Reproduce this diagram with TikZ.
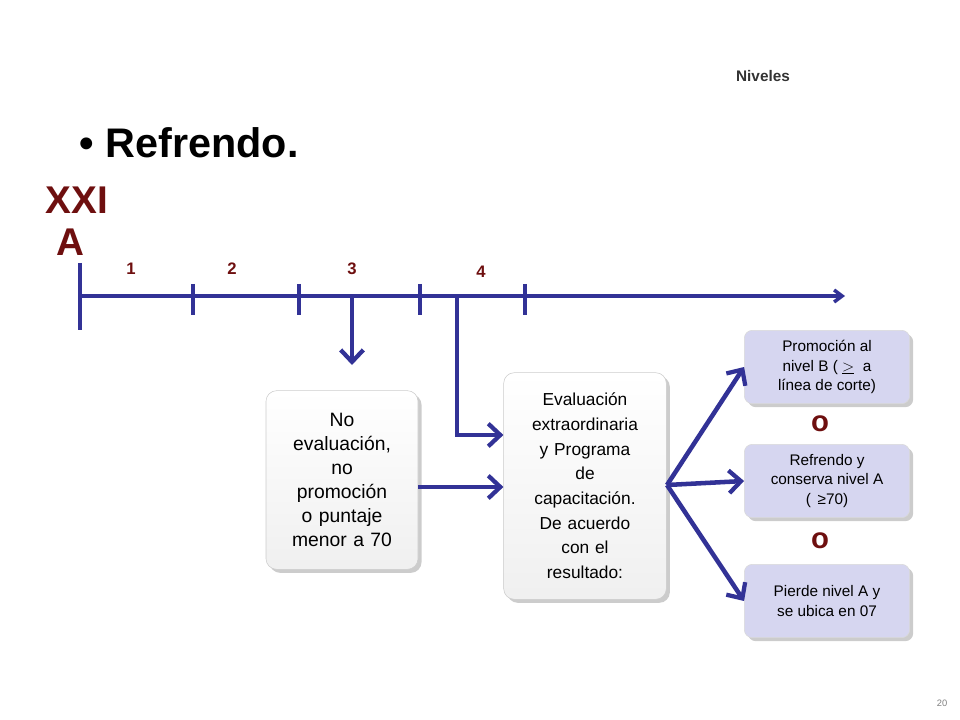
\documentclass[tikz,border=0pt]{standalone}
\usepackage{fontspec}
\setmainfont{Liberation Sans}
\usetikzlibrary{arrows.meta,shadows}
\definecolor{ln}{RGB}{50,50,150}
\definecolor{dred}{RGB}{110,15,15}
\definecolor{lav}{RGB}{214,214,240}
\begin{document}
\begin{tikzpicture}[x=0.75pt,y=-0.75pt,
  tl/.style={draw=ln,line width=2.6pt},
  big/.style={draw=ln,line width=3.4pt,-{Straight Barb[length=9pt,width=17pt,line width=3.2pt]}},
  gbox/.style={rounded corners=8pt,draw=gray!40,top color=white,bottom color=gray!12,drop shadow={opacity=0.4},align=center,font=\fontsize{14.5}{18}\selectfont,inner sep=2pt},
  lbox/.style={rounded corners=6pt,draw=gray!30,fill=lav,drop shadow={opacity=0.4},align=center,font=\fontsize{11.5}{14.5}\selectfont,minimum width=124pt,inner sep=2pt},
  num/.style={text=dred,font=\bfseries\fontsize{12.5}{13}\selectfont},
  oo/.style={text=dred,font=\bfseries\fontsize{22}{22}\selectfont}]
\useasboundingbox (0,0) rectangle (960,720);
\node[font=\bfseries\fontsize{11.5}{12}\selectfont,text=black!80] (niv) at (763,76) {Niveles};
\node[font=\bfseries\fontsize{31}{34}\selectfont,anchor=west] (ref) at (75,143) {• Refrendo.};
\node[text=dred,font=\bfseries\fontsize{29}{30}\selectfont] (xxi) at (77,200) {XXI};
\node[text=dred,font=\bfseries\fontsize{29}{30}\selectfont] (a) at (70,242) {A};
\node[num] (n1) at (131,269) {1};
\node[num] (n2) at (232,269) {2};
\node[num] (n3) at (352,269) {3};
\node[num] (n4) at (481,272) {4};
\coordinate (s) at (80,296);
\coordinate (e) at (845,296);
\draw[tl,-{Straight Barb[length=6pt,width=9pt]}] (s) -- (e);
\draw[tl] (80,263) -- (80,330);
\foreach \x in {193,299,420,525} \draw[tl] (\x,284) -- (\x,315);
\node[gbox,minimum width=112pt,minimum height=134pt,text width=110pt] (b1) at (342,480) {No\\evaluación,\\no\\promoción\\o puntaje\\menor a 70};
\node[gbox,minimum width=122pt,minimum height=170pt,text width=118pt,font=\fontsize{13}{18.5}\selectfont] (b2) at (585,486) {Evaluación\\extraordinaria\\y Programa\\de\\capacitación.\\De acuerdo\\con el\\resultado:};
\node[lbox,minimum height=55pt] (r1) at (827,367) {Promoción al\\nivel B ( $\underline{>}$ \ a\\línea de corte)};
\node[lbox,minimum height=55pt] (r2) at (827,481) {Refrendo y\\conserva nivel A\\( \,≥70)};
\node[lbox,minimum height=55pt] (r3) at (827,601) {Pierde nivel A y\\se ubica en 07};
\node[oo] (o1) at (820,424) {o};
\node[oo] (o2) at (820,541) {o};
\node[font=\fontsize{7}{8}\selectfont,text=gray] (pg) at (942,703) {20};
\coordinate (t3) at (352,296);
\coordinate (t4) at (457,296);
\draw[big] (t3) -- (352,365);
\draw[big] (t4) -- (457,435) -- (b2.west |- 0,435);
\draw[big] (b1.east |- 0,487) -- (b2.west |- 0,487);
\coordinate (f) at (667,485);
\draw[big] (f) -- (r1.west);
\draw[big] (f) -- (r2.west);
\draw[big] (f) -- (r3.west);
\end{tikzpicture}
\end{document}
